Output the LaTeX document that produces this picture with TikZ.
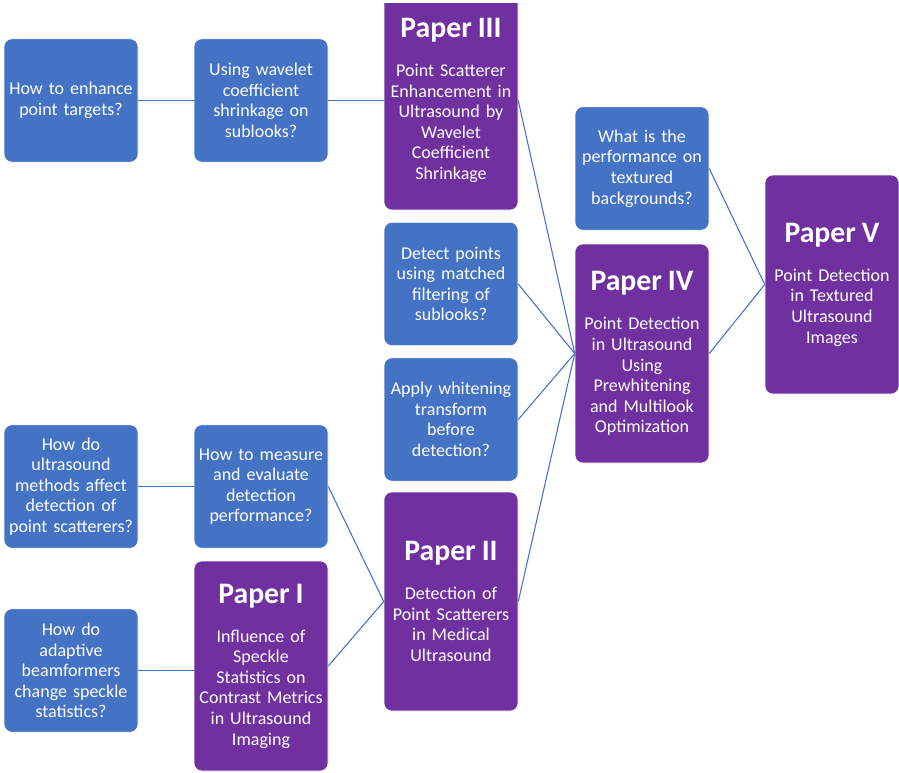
\documentclass[tikz,border=0pt]{standalone}
\usepackage{fontspec}
\setmainfont{Carlito}
\usetikzlibrary{positioning}

\newcommand{\papertitle}[1]{{\fontsize{22.3}{26}\selectfont\bfseries #1}}

\begin{document}
\begin{tikzpicture}[x=0.75pt, y=-0.75pt,
  qbox/.style={rectangle, rounded corners=6pt, draw=white, line width=0.4pt,
    fill=qblue, text=white, minimum width=100.5pt, minimum height=92.5pt,
    text width=97pt, align=center, inner sep=1pt,
    font=\fontsize{13.5}{15.4}\selectfont},
  pbox/.style={qbox, fill=ppurple, minimum height=164.25pt},
  link/.style={draw=qblue, line width=0.8pt}]
  % Define colors
  \definecolor{qblue}{HTML}{4472C4}
  \definecolor{ppurple}{HTML}{7030A0}

  \useasboundingbox (0,0) rectangle (899,772);

  \begin{scope}
  \clip (0,3) rectangle (899,772);

  % Top row: enhancement
  \node[qbox] (enhance) at (71,100.5) {How to enhance\\point targets?};
  \node[qbox] (wavelet) at (261,100.5) {Using wavelet\\coefficient\\shrinkage on\\sublooks?};
  \node[pbox] (paper3) at (451,100.5) {\papertitle{Paper III}\\[14pt]Point Scatterer\\Enhancement in\\Ultrasound by\\Wavelet\\Coefficient\\Shrinkage};

  % Middle column questions
  \node[qbox] (matched) at (451,284) {Detect points\\using matched\\filtering of\\sublooks?};
  \node[qbox] (whiten) at (451,419.5) {Apply whitening\\transform\\before\\detection?};
  \node[pbox] (paper2) at (451,601.5) {\papertitle{Paper II}\\[14pt]Detection of\\Point Scatterers\\in Medical\\Ultrasound};

  % Right columns
  \node[qbox] (texture) at (642,168.5) {What is the\\performance on\\textured\\backgrounds?};
  \node[pbox] (paper4) at (642,353.5) {\papertitle{Paper IV}\\[14pt]Point Detection\\in Ultrasound\\Using\\Prewhitening\\and Multilook\\Optimization};
  \node[pbox] (paper5) at (832,284.5) {\papertitle{Paper V}\\[14pt]Point Detection\\in Textured\\Ultrasound\\Images};

  % Bottom left: detection and speckle
  \node[qbox] (methods) at (71,486.5) {How do\\ultrasound\\methods affect\\detection of\\point scatterers?};
  \node[qbox] (measure) at (261,486.5) {How to measure\\and evaluate\\detection\\performance?};
  \node[qbox] (adaptive) at (71,670.5) {How do\\adaptive\\beamformers\\change speckle\\statistics?};
  \node[pbox, minimum height=157.5pt] (paper1) at (261,666) {\papertitle{Paper I}\\[14pt]Influence of\\Speckle\\Statistics on\\Contrast Metrics\\in Ultrasound\\Imaging\\[-6pt]};
  \end{scope}

  % Connectors
  \draw[link] (enhance) -- (wavelet);
  \draw[link] (wavelet) -- (paper3);
  \draw[link] (paper3.east) -- (paper4.west);
  \draw[link] (matched.east) -- (paper4.west);
  \draw[link] (whiten.east) -- (paper4.west);
  \draw[link] (paper2.east) -- (paper4.west);
  \draw[link] (texture.east) -- (paper5.west);
  \draw[link] (paper4.east) -- (paper5.west);
  \draw[link] (methods) -- (measure);
  \draw[link] (measure.east) -- (paper2.west);
  \draw[link] (adaptive.east) -- (adaptive.east -| paper1.west);
  \draw[link] (paper1.east) -- (paper2.west);

\end{tikzpicture}
\end{document}
